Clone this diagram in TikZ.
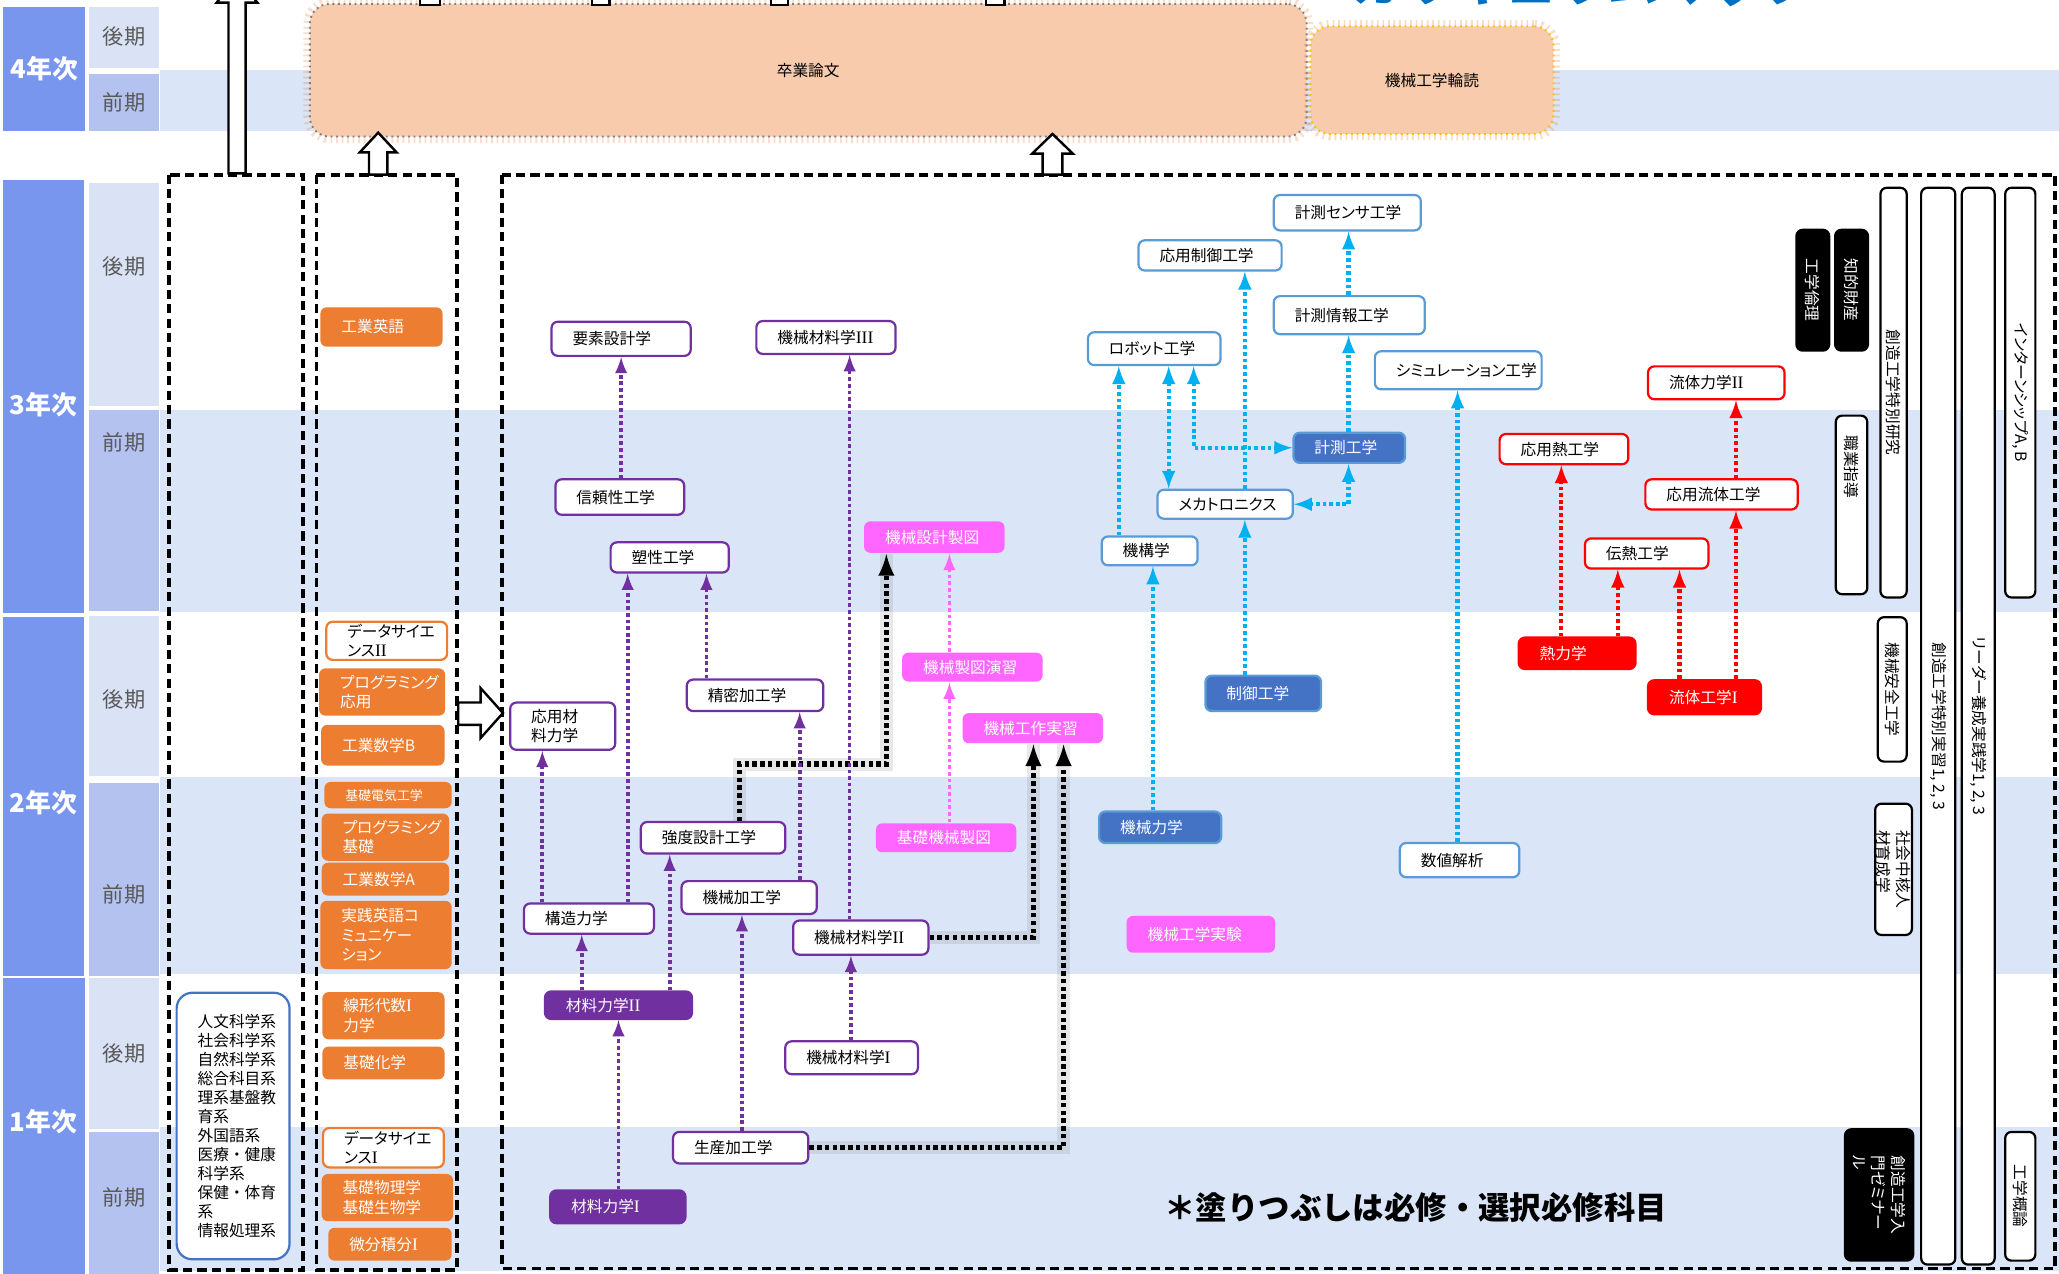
\documentclass[tikz,border=0pt]{standalone}
\usepackage{fontspec}
\setmainfont{Noto Sans CJK JP}[CharacterWidth=AlternateProportional]
\newfontfamily\fullwidth{Noto Sans CJK JP}
\newfontfamily\romanfont{Liberation Serif}
\newcommand{\rmnum}[1]{{\romanfont\fontsize{9.5}{10.5}\selectfont #1}}

\definecolor{yearblue}{HTML}{7896EE}
\definecolor{termlight}{HTML}{DAE3F5}
\definecolor{termdark}{HTML}{B4C2F0}
\definecolor{termgray}{HTML}{595959}
\definecolor{band}{HTML}{DAE5F7}
\definecolor{basicorange}{HTML}{ED7D31}
\definecolor{thesispeach}{HTML}{F8CBAD}
\definecolor{thesisgold}{HTML}{FFC000}
\definecolor{matpurple}{HTML}{7030A0}
\definecolor{drawpink}{HTML}{FF66FF}
\definecolor{ctrlblue}{HTML}{4472C4}
\definecolor{ctrledge}{HTML}{5B9BD5}
\definecolor{linkcyan}{HTML}{00B0F0}
\definecolor{heatred}{HTML}{FF0000}
\definecolor{titleblue}{HTML}{0070C0}

\begin{document}
\begin{tikzpicture}[
	x=0.25mm, y=-0.25mm,
	sz/.style 2 args={minimum width=#1*0.25mm, minimum height=#2*0.25mm},
	cbox/.style 2 args={text width=#1*0.25mm-8mm, inner xsep=4mm, minimum height=#2*0.25mm, align=left},
	course/.style={
		rectangle,
		rounded corners=1.2mm,
		inner sep=0pt,
		align=center,
		line width=1.2pt,
		font=\fontsize{8.5}{10.5}\selectfont,
	},
	purplebox/.style={course, draw=matpurple, fill=white},
	purplefill/.style={course, draw=matpurple, fill=matpurple, text=white},
	pinkfill/.style={course, fill=drawpink, text=white},
	cyanbox/.style={course, draw=ctrledge, fill=white},
	bluefill/.style={course, draw=ctrledge, fill=ctrlblue, text=white},
	redbox/.style={course, draw=heatred, fill=white},
	redfill/.style={course, draw=heatred, fill=heatred, text=white},
	basicfill/.style={course, fill=basicorange, text=white},
	basicline/.style={course, draw=basicorange, fill=white},
	sidebox/.style={course, draw=black, fill=white, rotate=-90},
	sideblack/.style={sidebox, fill=black, text=white},
	thesis/.style={
		rectangle,
		rounded corners=3.75mm,
		fill=thesispeach,
		font=\fontsize{8.5}{10.5}\selectfont,
		preaction={draw=basicorange, draw opacity=.25, line width=7pt},
	},
	yeartext/.style={text=white, font=\fontsize{14}{16}\selectfont\bfseries},
	termtext/.style={text=termgray, font=\fontsize{11.5}{13}\selectfont},
	groupbox/.style={draw=black, line width=2.1pt, dash pattern=on 5pt off 2.8pt},
	hollow/.style={draw=black, fill=white, line width=1.3pt},
	link/.style={-latex, line width=2pt, dash pattern=on 2pt off 1.6pt},
	plink/.style={link, matpurple},
	pklink/.style={link, drawpink},
	clink/.style={link, linkcyan, line width=2.3pt},
	rlink/.style={link, heatred, line width=2.3pt},
	klink/.style={link, black, line width=3pt, dash pattern=on 2.4pt off 1.8pt,
		preaction={-, draw=black!45, draw opacity=.2, solid, line width=7pt}},
]
	\useasboundingbox (0,0) rectangle (1568,970);
	\fill[white] (0,0) rectangle (1568,970);
	% title, cut at the top edge
	\node[text=titleblue, font=\fullwidth\fontsize{28}{30}\selectfont\bfseries] (title) at (1205,-14) {カリキュラムマップ};

	% first-term bands
	\fill[band] (122,53) rectangle (1568,100);
	\fill[band] (122,312) rectangle (1568,466);
	\fill[band] (122,592) rectangle (1568,742);
	\fill[band] (122,858) rectangle (1568,968);

	% year / term column
	\fill[yearblue] (2,5) rectangle (65,100);
	\fill[yearblue] (2,137) rectangle (64,467);
	\fill[yearblue] (2,470) rectangle (64,743);
	\fill[yearblue] (2,745) rectangle (65,970);
	\fill[termlight] (68,5) rectangle (121,52);
	\fill[termdark] (68,56) rectangle (121,100);
	\fill[termlight] (68,139) rectangle (121,309);
	\fill[termdark] (68,312) rectangle (121,465);
	\fill[termlight] (68,469) rectangle (121,591);
	\fill[termdark] (68,596) rectangle (121,743);
	\fill[termlight] (68,745) rectangle (121,860);
	\fill[termdark] (68,862) rectangle (121,970);
	\node[yeartext] (y4) at (34,52) {4年次};
	\node[yeartext] (y3) at (33,308) {3年次};
	\node[yeartext] (y2) at (33,611) {2年次};
	\node[yeartext] (y1) at (33,854) {1年次};
	\node[termtext] (t4b) at (94.5,28) {後期};
	\node[termtext] (t4a) at (94.5,78) {前期};
	\node[termtext] (t3b) at (94.5,203) {後期};
	\node[termtext] (t3a) at (94.5,337) {前期};
	\node[termtext] (t2b) at (94.5,533) {後期};
	\node[termtext] (t2a) at (94.5,681) {前期};
	\node[termtext] (t1b) at (94.5,802) {後期};
	\node[termtext] (t1a) at (94.5,912) {前期};

	% fourth year
	\node[thesis, sz={759}{101}, draw=gray, dotted, line width=1pt] (sotsu) at (615.5,53.5) {卒業論文};
	\node[thesis, sz={185}{82}, draw=thesisgold, dotted, line width=1pt] (rindoku) at (1090.5,61) {機械工学輪読};

	% groups
	\draw[groupbox] (129,133) rectangle (231,967);
	\draw[groupbox] (241,133) rectangle (348,967);
	\draw[groupbox] (382.5,133) rectangle (1565,966);

	% hollow arrows
	\draw[hollow] (174,132) -- (174,2) -- (165,2) -- (180.5,-18) -- (196,2) -- (187,2) -- (187,132) -- cycle;
	\draw[hollow] (281,133) -- (281,116) -- (274,116) -- (288,101) -- (302,116) -- (295,116) -- (295,133) -- cycle;
	\draw[hollow] (794,133) -- (794,117) -- (786,117) -- (801.5,102) -- (817,117) -- (809,117) -- (809,133) -- cycle;
	\draw[hollow] (349,535) -- (366,535) -- (366,524) -- (383,543) -- (366,562) -- (366,552) -- (349,552) -- cycle;
	\draw[hollow] (320,4) rectangle (335,-8);
	\draw[hollow] (451,4) rectangle (464,-8);
	\draw[hollow] (587,4) rectangle (600,-8);
	\draw[hollow] (751,4) rectangle (765,-8);

	% general education
	\node[course, draw=ctrlblue, fill=white, rounded corners=3mm, cbox={86}{203}, font=\fullwidth\fontsize{8.5}{10.3}\selectfont] (ippan) at (177.5,857.5)
		{人文科学系\\社会科学系\\自然科学系\\総合科目系\\理系基盤教\\育系\\外国語系\\医療・健康\\科学系\\保健・体育\\系\\情報処理系};

	% basic subjects
	\node[basicfill, cbox={93}{30}] (eigo) at (290.5,249) {工業英語};
	\node[basicline, cbox={92}{29}] (ds2) at (294.5,488) {データサイエ\\ンス\rmnum{II}};
	\node[basicfill, cbox={96}{36}] (progapp) at (291,527) {プログラミング\\応用};
	\node[basicfill, cbox={94}{31}] (mathb) at (291.5,567.5) {工業数学B};
	\node[basicfill, cbox={97}{20}, font=\fontsize{7}{8}\selectfont] (denki) at (295.5,605.5) {基礎電気工学};
	\node[basicfill, cbox={97}{36}] (progbase) at (293.5,637.5) {プログラミング\\基礎};
	\node[basicfill, cbox={97}{25}] (matha) at (293.5,669.5) {工業数学A};
	\node[basicfill, cbox={100}{52}] (jissen) at (294,712) {実践英語コ\\ミュニケー\\ション};
	\node[basicfill, cbox={93}{36}] (senkei) at (292,773.5) {線形代数\rmnum{I}\\力学};
	\node[basicfill, cbox={93}{25}] (kagaku) at (292,809.5) {基礎化学};
	\node[basicline, cbox={92}{30}] (ds1) at (292,874) {データサイエ\\ンス\rmnum{I}};
	\node[basicfill, cbox={100}{36}] (butsuri) at (295,912) {基礎物理学\\基礎生物学};
	\node[basicfill, cbox={94}{25}] (bibun) at (297,947.5) {微分積分\rmnum{I}};

	% materials and design
	\node[purplebox, cbox={106}{26}] (yoso) at (473,258) {要素設計学};
	\node[purplebox, cbox={106}{25}] (kizai3) at (629,257) {機械材料学\rmnum{III}};
	\node[purplebox, cbox={98}{27}] (shinrai) at (472,378.5) {信頼性工学};
	\node[purplebox, cbox={90}{23}] (sosei) at (510,424.5) {塑性工学};
	\node[purplebox, cbox={80}{36}] (ozai) at (428.5,553) {応用材\\料力学};
	\node[purplebox, cbox={104}{24}] (seimitsu) at (575,529.5) {精密加工学};
	\node[purplebox, cbox={110}{24}] (kyodo) at (543,638) {強度設計工学};
	\node[purplebox, cbox={99}{23}] (kozo) at (448.5,699.5) {構造力学};
	\node[purplebox, cbox={103}{25}] (kikako) at (570.5,683.5) {機械加工学};
	\node[purplebox, cbox={103}{26}] (kizai2) at (655.5,714) {機械材料学\rmnum{II}};
	\node[purplebox, cbox={101}{25}] (kizai1) at (648.5,805.5) {機械材料学\rmnum{I}};
	\node[purplebox, cbox={103}{24}] (seisan) at (564,874) {生産加工学};
	\node[purplefill, cbox={112}{21}] (zairiki2) at (471,765.5) {材料力学\rmnum{II}};
	\node[purplefill, cbox={103}{25}] (zairiki1) at (470.5,919) {材料力学\rmnum{I}};

	% drawing and workshop
	\node[pinkfill, cbox={107}{24}] (sekkei) at (711.5,409) {機械設計製図};
	\node[pinkfill, cbox={107}{22}] (seizu) at (740.5,508) {機械製図演習};
	\node[pinkfill, cbox={107}{23}] (kosaku) at (786.5,554.5) {機械工作実習};
	\node[pinkfill, cbox={107}{22}] (kiseizu) at (720.5,638) {基礎機械製図};
	\node[pinkfill, cbox={113}{28}] (jikken) at (914.5,711.5) {機械工学実験};

	% dynamics, control, measurement
	\node[bluefill, cbox={85}{23}] (keisoku) at (1027.5,341) {計測工学};
	\node[bluefill, cbox={88}{27}] (seigyo) at (962,528) {制御工学};
	\node[bluefill, cbox={93}{24}] (kirik) at (883.5,630) {機械力学};
	\node[cyanbox, cbox={112}{27}] (sensa) at (1026,162) {計測センサ工学};
	\node[cyanbox, cbox={109}{23}] (oseigyo) at (921.5,194.5) {応用制御工学};
	\node[cyanbox, cbox={115}{29}] (joho) at (1027.5,240) {計測情報工学};
	\node[cyanbox, cbox={101}{25}] (robot) at (879,265.5) {ロボット工学};
	\node[cyanbox, cbox={127}{29}] (simu) at (1110.5,282) {シミュレーション工学};
	\node[cyanbox, cbox={103}{22}] (mecha) at (933,384) {メカトロニクス};
	\node[cyanbox, cbox={73}{22}] (kiko) at (875.5,419.5) {機構学};
	\node[cyanbox, cbox={91}{26}] (suchi) at (1111.5,655) {数値解析};

	% thermal and fluid
	\node[redbox, cbox={104}{25}] (ryuriki2) at (1307,291.5) {流体力学\rmnum{II}};
	\node[redbox, cbox={98}{23}] (onetsu) at (1191,342) {応用熱工学};
	\node[redbox, cbox={116}{23}] (oryutai) at (1311,376.5) {応用流体工学};
	\node[redbox, cbox={94}{23}] (dennetsu) at (1254,421.5) {伝熱工学};
	\node[redfill, cbox={89}{24}] (netsu) at (1201,497.5) {熱力学};
	\node[redfill, cbox={86}{26}] (ryutai1) at (1298,531) {流体工学\rmnum{I}};

	% side courses
	\node[sideblack, sz={92}{25}] (rinri) at (1380.5,221) {工学倫理};
	\node[sideblack, sz={92}{25}] (chizai) at (1410,221) {知的財産};
	\node[sidebox, text width=26.5mm, inner xsep=3.75mm, minimum height=24*0.25mm, align=left] (shido) at (1410,384.5) {職業指導};
	\node[sidebox, sz={312}{20}] (tokken) at (1442,299) {創造工学特別研究};
	\node[sidebox, sz={110}{22}] (anzen) at (1441,525) {機械安全工学};
	\node[sidebox, sz={100}{28}, align=left] (chukaku) at (1442,662) {社会中核人\\材育成学};
	\node[sideblack, sz={100}{52}, align=left] (zemi) at (1431,910) {創造工学入\\門ゼミナー\\ル};
	\node[sidebox, sz={820}{26}] (tokjis) at (1476,553) {創造工学特別実習1, 2, 3};
	\node[sidebox, sz={820}{25}] (leader) at (1506.5,553) {リーダー養成実践学1, 2, 3};
	\node[sidebox, sz={312}{23}] (intern) at (1538.5,299) {インターンシップA, B};
	\node[sidebox, sz={98}{23}] (gairon) at (1538.5,911) {工学概論};

	% prerequisite links
	\draw[klink] (kyodo.north -| 563,0) |- (675,582) -- (sekkei.south -| 675,0);
	\draw[klink] (kizai2.east) -| (kosaku.south -| 787,0);
	\draw[klink] (seisan.east) -| (kosaku.south -| 810,0);

	\draw[plink] (shinrai.north -| 473,0) -- (yoso.south -| 473,0);
	\draw[plink] (kizai2.north -| 647,0) -- (kizai3.south -| 647,0);
	\draw[plink] (kozo.north -| 478,0) -- (sosei.south -| 478,0);
	\draw[plink] (seimitsu.north -| 538,0) -- (sosei.south -| 538,0);
	\draw[plink] (kozo.north -| 413,0) -- (ozai.south -| 413,0);
	\draw[plink] (zairiki2.north -| 510,0) -- (kyodo.south -| 510,0);
	\draw[plink] (zairiki2.north -| 443,0) -- (kozo.south -| 443,0);
	\draw[plink] (zairiki1.north -| 471,0) -- (zairiki2.south -| 471,0);
	\draw[plink] (seisan.north -| 565,0) -- (kikako.south -| 565,0);
	\draw[plink] (kikako.north -| 609,0) -- (seimitsu.south -| 609,0);
	\draw[plink] (kizai1.north -| 648,0) -- (kizai2.south -| 648,0);

	\draw[pklink] (kiseizu.north -| 723,0) -- (seizu.south -| 723,0);
	\draw[pklink] (seizu.north -| 723,0) -- (sekkei.south -| 723,0);

	\draw[clink] (kiko.north -| 852,0) -- (robot.south -| 852,0);
	\draw[clink, latex-latex] (mecha.north -| 890,0) -- (robot.south -| 890,0);
	\draw[clink, latex-latex] (robot.south -| 909,0) |- (keisoku.west);
	\draw[clink] (seigyo.north -| 948,0) -- (mecha.south -| 948,0);
	\draw[clink] (mecha.north -| 948,0) -- (oseigyo.south -| 948,0);
	\draw[clink, latex-latex] (keisoku.south -| 1027,0) |- (mecha.east);
	\draw[clink] (keisoku.north -| 1027,0) -- (joho.south -| 1027,0);
	\draw[clink] (joho.north -| 1027,0) -- (sensa.south -| 1027,0);
	\draw[clink] (kirik.north -| 878,0) -- (kiko.south -| 878,0);
	\draw[clink] (suchi.north -| 1110,0) -- (simu.south -| 1110,0);

	\draw[rlink] (netsu.north -| 1189,0) -- (onetsu.south -| 1189,0);
	\draw[rlink] (netsu.north -| 1232,0) -- (dennetsu.south -| 1232,0);
	\draw[rlink] (ryutai1.north -| 1279,0) -- (dennetsu.south -| 1279,0);
	\draw[rlink] (ryutai1.north -| 1322,0) -- (oryutai.south -| 1322,0);
	\draw[rlink] (oryutai.north -| 1322,0) -- (ryuriki2.south -| 1322,0);

	\node[font=\fullwidth\fontsize{17}{20}\selectfont\bfseries] (note) at (1078,919.5) {＊塗りつぶしは必修・選択必修科目};
\end{tikzpicture}
\end{document}
